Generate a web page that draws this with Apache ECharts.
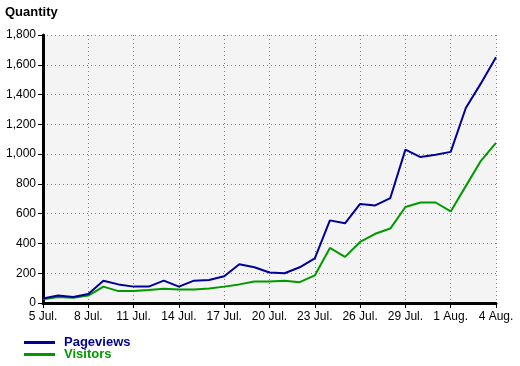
<!DOCTYPE html>
<html><head><meta charset="utf-8">
<script src="https://cdn.jsdelivr.net/npm/echarts@6/dist/echarts.min.js"></script>
<style>html,body{margin:0;padding:0;background:#fff}#c{width:520px;height:366px}</style>
</head><body><div id="c"></div>
<script>
var categories = ["5 Jul.","6 Jul.","7 Jul.","8 Jul.","9 Jul.","10 Jul.","11 Jul.","12 Jul.","13 Jul.","14 Jul.","15 Jul.","16 Jul.","17 Jul.","18 Jul.","19 Jul.","20 Jul.","21 Jul.","22 Jul.","23 Jul.","24 Jul.","25 Jul.","26 Jul.","27 Jul.","28 Jul.","29 Jul.","30 Jul.","31 Jul.","1 Aug.","2 Aug.","3 Aug.","4 Aug."];
var pageviews = [30, 50, 40, 60, 150, 125, 110, 110, 150, 110, 150, 155, 180, 260, 240, 205, 200, 240, 300, 555, 535, 665, 655, 705, 1030, 980, 995, 1015, 1310, 1475, 1650];
var visitors = [25, 40, 35, 50, 110, 80, 80, 87, 95, 90, 90, 98, 110, 125, 145, 145, 150, 140, 185, 370, 310, 410, 465, 500, 645, 675, 675, 615, 785, 955, 1075];
var yTicks = [0, 200, 400, 600, 800, 1000, 1200, 1400, 1600, 1800];

var BLUE = '#000099', GREEN = '#009900';
var FONT = 'Liberation Sans, Arial, sans-serif';
var chart = echarts.init(document.getElementById('c'), null, {renderer: 'canvas'});
chart.setOption({
  animation: false,
  title: {text: 'Quantity', left: 5, top: 6, padding: 0,
    textStyle: {fontFamily: FONT, fontSize: 13, fontWeight: 'bold', color: '#000'}},
  grid: {left: 43, right: 24, top: 35, bottom: 63, show: true, backgroundColor: '#f4f4f4', borderWidth: 0, containLabel: false},
  legend: [
    {left: 24, top: 336, padding: 0, itemWidth: 31, itemHeight: 3, icon: 'rect',
     data: [{name: 'Pageviews', textStyle: {color: BLUE}}],
     textStyle: {fontFamily: FONT, fontSize: 13, fontWeight: 'bold', padding: [0,0,0,4]}},
    {left: 24, top: 348, padding: 0, itemWidth: 31, itemHeight: 3, icon: 'rect',
     data: [{name: 'Visitors', textStyle: {color: GREEN}}],
     textStyle: {fontFamily: FONT, fontSize: 13, fontWeight: 'bold', padding: [0,0,0,4]}}
  ],
  xAxis: {
    type: 'category', data: categories, boundaryGap: false,
    axisLine: {lineStyle: {color: '#000', width: 3}},
    axisTick: {show: true, interval: 2, length: 5, lineStyle: {color: '#000', width: 1}},
    axisLabel: {interval: 2, margin: 8, fontFamily: FONT, fontSize: 12, color: '#000'},
    splitLine: {show: true, interval: 2, lineStyle: {color: '#808080', type: [1, 3], width: 1}}
  },
  yAxis: {
    type: 'value', min: yTicks[0], max: yTicks[yTicks.length - 1], interval: 200,
    axisLine: {show: true, lineStyle: {color: '#000', width: 3}},
    axisTick: {show: true, length: 5, lineStyle: {color: '#000', width: 1}},
    axisLabel: {margin: 7, fontFamily: FONT, fontSize: 12, color: '#000',
      formatter: function (v) { return v.toLocaleString('en-US'); }},
    splitLine: {show: true, lineStyle: {color: '#808080', type: [1, 3], width: 1}}
  },
  series: [
    {name: 'Pageviews', type: 'line', data: pageviews, showSymbol: false, symbol: 'none',
     lineStyle: {color: BLUE, width: 2}, itemStyle: {color: BLUE}, z: 3},
    {name: 'Visitors', type: 'line', data: visitors, showSymbol: false, symbol: 'none',
     lineStyle: {color: GREEN, width: 2}, itemStyle: {color: GREEN}, z: 2}
  ]
});
</script></body></html>
